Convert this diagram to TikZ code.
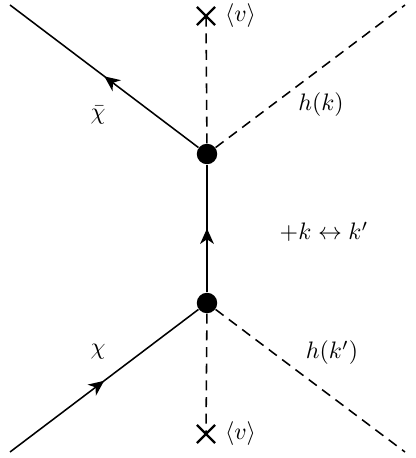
\documentclass[tikz,border=0pt]{standalone}
\usetikzlibrary{arrows.meta,decorations.markings,shapes.misc}
\begin{document}
\begin{tikzpicture}[x=0.42pt, y=0.42pt,
	fermion/.style={line width=0.65pt, postaction={decorate},
		decoration={markings, mark=at position 0.5 with {\arrow{Stealth[length=6.5pt, width=5.8pt, inset=2pt]}}}},
	scalar/.style={line width=0.65pt, dash pattern=on 4.2pt off 2.8pt},
	vertex/.style={circle, fill, inner sep=0pt, minimum size=8.6pt},
	vev/.style={cross out, draw, line width=1pt, inner sep=0pt, minimum size=6.6pt},
	vevlabel/.style={label={[label distance=3pt, inner sep=1pt]right:$\langle v\rangle$}}]
	\useasboundingbox (0,0) rectangle (415,458);
	% Define nodes
	\node[vertex] (top) at (207,304) {}; \node[vertex] (bot) at (207,155) {};
	\node[vev, vevlabel] (vevtop) at (206,442) {};
	\node[vev, vevlabel] (vevbot) at (206,24) {};
	\coordinate (chibarend) at (10,453); \coordinate (hkend) at (405,453);
	\coordinate (chiend) at (10,6); \coordinate (hkpend) at (405,6);
	
	% Labels
	\node (chibar) at (98,343) {$\bar\chi$}; \node (hk) at (321,353) {$h(k)$};
	\node (swap) at (324,226) {$+k\leftrightarrow k'$};
	\node (chi) at (98,106) {$\chi$}; \node (hkp) at (332,105) {$h(k')$};
	
	% Draw edges
	\draw[fermion] (top) -- (chibarend); \draw[fermion] (bot) -- (top);
	\draw[fermion] (chiend) -- (bot); \draw[scalar] (top) -- (hkend);
	\draw[scalar] (bot) -- (hkpend); \draw[scalar] (top) -- (vevtop.center);
	\draw[scalar] (bot) -- (vevbot.center);
\end{tikzpicture}
\end{document}
